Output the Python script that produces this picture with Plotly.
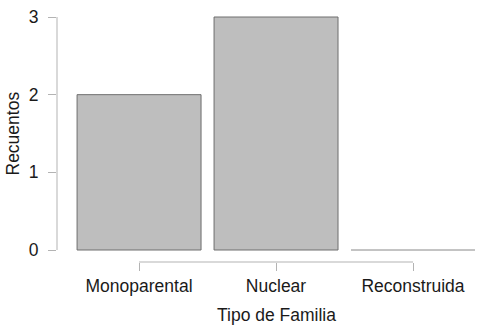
import plotly.graph_objects as go

categories = ["Monoparental", "Nuclear", "Reconstruida"]
counts = [2, 3, 0]
y_ticks = [0, 1, 2, 3]

xs = list(range(len(categories)))
FONT = "Liberation Sans, Arial, sans-serif"
AXC = "#b3b3b3"
FS = 17.5

outline = ["#6e6e6e" if c > 0 else "#b0b0b0" for c in counts]

fig = go.Figure()
fig.add_trace(go.Bar(
    x=xs, y=counts, width=0.905,
    marker=dict(color="#bebebe", line=dict(color=outline, width=1)),
    hoverinfo="skip",
))

fig.update_layout(
    width=495, height=328,
    margin=dict(l=57, r=15, t=10, b=66, autoexpand=False),
    plot_bgcolor="white", paper_bgcolor="white",
    showlegend=False,
    font=dict(family=FONT, size=FS, color="#1a1a1a"),
    xaxis=dict(
        range=[-0.599, 2.489], automargin=False,
        tickmode="array", tickvals=xs, ticktext=categories,
        ticks="outside", ticklen=8, tickcolor=AXC, tickwidth=1,
        showline=False, showgrid=False, zeroline=False,
        ticklabelstandoff=0,
        tickfont=dict(size=FS),
    ),
    yaxis=dict(
        range=[-0.1545, 3.0901], automargin=False,
        tickmode="array", tickvals=y_ticks,
        ticks="outside", ticklen=8, tickcolor=AXC, tickwidth=1,
        showline=False, showgrid=False, zeroline=False,
        ticklabelstandoff=6,
        tickfont=dict(size=FS),
    ),
    annotations=[
        dict(text="Tipo de Familia", xref="x", yref="paper",
             x=(xs[0] + xs[-1]) / 2, y=0, yshift=-53,
             showarrow=False, font=dict(size=FS), yanchor="middle"),
        dict(text="Recuentos", xref="paper", yref="y",
             x=0, xshift=-45, y=(y_ticks[0] + y_ticks[-1]) / 2,
             showarrow=False, font=dict(size=FS), textangle=-90,
             xanchor="center"),
    ],
)

# axis lines spanning only the tick range (R-style)
fig.add_shape(type="line", xref="paper", yref="y",
              x0=0, x1=0, y0=min(y_ticks), y1=max(y_ticks),
              line=dict(color=AXC, width=1))
fig.add_shape(type="line", xref="x", yref="paper",
              x0=xs[0], x1=xs[-1], y0=0, y1=0,
              line=dict(color=AXC, width=1))

fig.write_html(
    "out.html",
    config={"displayModeBar": False},
    post_script="document.body.style.margin='0';document.body.style.overflow='hidden';",
)
